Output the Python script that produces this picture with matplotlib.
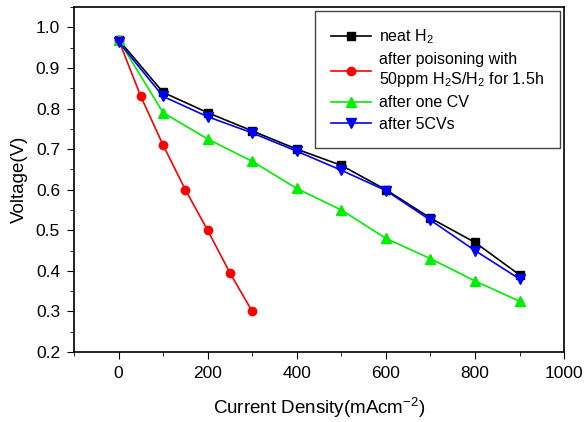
import matplotlib
matplotlib.use('Agg')
import matplotlib.pyplot as plt
from matplotlib.ticker import MultipleLocator

plt.rcParams['font.family'] = ['Liberation Sans', 'DejaVu Sans']
plt.rcParams['mathtext.fontset'] = 'custom'
plt.rcParams['mathtext.rm'] = 'Liberation Sans'
plt.rcParams['mathtext.it'] = 'Liberation Sans:italic'

# polarization data
x_full = [0, 100, 200, 300, 400, 500, 600, 700, 800, 900]
neat_h2 = [0.97, 0.84, 0.79, 0.745, 0.70, 0.66, 0.60, 0.53, 0.47, 0.39]
one_cv = [0.97, 0.79, 0.725, 0.67, 0.603, 0.55, 0.48, 0.43, 0.375, 0.325]
five_cv = [0.965, 0.83, 0.78, 0.74, 0.695, 0.648, 0.598, 0.525, 0.45, 0.38]

x_poison = [0, 50, 100, 150, 200, 250, 300]
poisoned = [0.97, 0.83, 0.71, 0.60, 0.50, 0.395, 0.30]

fig = plt.figure(figsize=(5.87, 4.22), dpi=100)
ax = fig.add_axes([0.126, 0.166, 0.835, 0.817])

ax.plot(x_full, neat_h2, color='black', marker='s', markersize=6, linewidth=1.2,
        label=r'neat H$_2$')
ax.plot(x_poison, poisoned, color='#ff0000', marker='o', markersize=6, linewidth=1.2,
        label='after poisoning with\n50ppm H$_2$S/H$_2$ for 1.5h')
ax.plot(x_full, one_cv, color='#00ee00', marker='^', markersize=7, linewidth=1.2,
        label='after one CV')
ax.plot(x_full, five_cv, color='#0000ff', marker='v', markersize=7, linewidth=1.2,
        label='after 5CVs')

ax.set_xlim(-100, 1000)
ax.set_ylim(0.2, 1.05)
ax.xaxis.set_major_locator(MultipleLocator(200))
ax.xaxis.set_minor_locator(MultipleLocator(100))
ax.yaxis.set_major_locator(MultipleLocator(0.1))
ax.yaxis.set_minor_locator(MultipleLocator(0.05))
ax.yaxis.set_major_formatter(matplotlib.ticker.FormatStrFormatter('%.1f'))
ax.tick_params(which='both', direction='out', top=False, right=False, labelsize=12.5)
ax.tick_params(which='major', length=5, pad=5)
ax.tick_params(which='minor', length=3)
for s in ax.spines.values():
    s.set_linewidth(1.2)

ax.set_xlabel('Current Density(mAcm$^{-2}$)', fontsize=13.5, labelpad=11)
ax.set_ylabel('Voltage(V)', fontsize=13.5, labelpad=6)

leg = ax.legend(loc='upper right', fontsize=11.5, numpoints=1, handlelength=2.5,
                fancybox=False, edgecolor='#444444', framealpha=1,
                borderpad=1.0, labelspacing=0.4, handletextpad=0.5,
                borderaxespad=0.25, bbox_to_anchor=(1.0, 1.0))
leg.get_frame().set_linewidth(1.0)

fig.savefig('out.png', dpi=100)
